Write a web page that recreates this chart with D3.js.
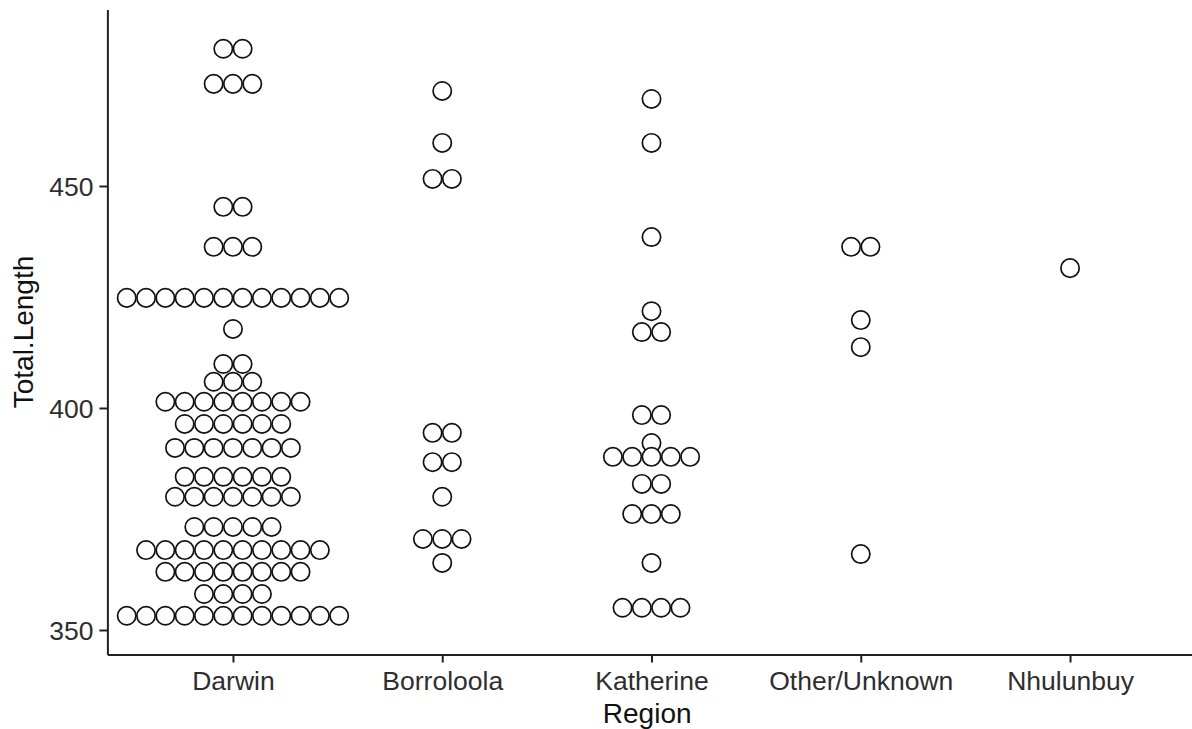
<!DOCTYPE html>
<html>
<head>
<meta charset="utf-8">
<script src="https://cdn.jsdelivr.net/npm/d3@7"></script>
<style>
  html, body { margin: 0; padding: 0; background: #fff; }
  svg { display: block; }
  text { font-family: "Liberation Sans", Arial, Helvetica, sans-serif; }
</style>
</head>
<body>
<svg id="chart" width="1192" height="729"></svg>
<script>
// Regions along the x axis
const regions = ["Darwin", "Borroloola", "Katherine", "Other/Unknown", "Nhulunbuy"];

// Dot stacks per region: stack centre (Total.Length) and number of dots in the stack
const darwinLevels  = [480.9, 473.0, 445.3, 436.3, 424.8, 417.8, 409.9, 405.9, 401.4, 396.4, 391.0, 384.5, 380.0, 373.2, 368.0, 363.1, 358.1, 353.2];
const darwinCounts  = [2, 3, 2, 3, 12, 1, 2, 3, 8, 6, 7, 6, 7, 5, 10, 8, 4, 12];

const borroLevels   = [471.4, 459.7, 451.6, 394.4, 387.8, 380.0, 370.5, 365.1];
const borroCounts   = [1, 1, 2, 2, 2, 1, 3, 1];

const kathLevels    = [469.6, 459.7, 438.5, 421.8, 417.1, 398.4, 392.1, 389.0, 382.9, 376.1, 365.1, 355.0];
const kathCounts    = [1, 1, 1, 1, 2, 2, 1, 5, 2, 3, 1, 4];

const otherLevels   = [436.3, 419.8, 413.7, 367.1];
const otherCounts   = [2, 1, 1, 1];

const nhulLevels    = [431.5];
const nhulCounts    = [1];

const yTicks = [350, 400, 450];
const binwidth = 4.35;   // dot diameter in data units

const stackLevels = [darwinLevels, borroLevels, kathLevels, otherLevels, nhulLevels];
const stackCounts = [darwinCounts, borroCounts, kathCounts, otherCounts, nhulCounts];

const svg = d3.select("#chart");

const panel = { left: 107.4, right: 1195.6, top: 9.5, bottom: 654.5 };

const x = d3.scalePoint()
  .domain(regions)
  .range([panel.left, panel.right])
  .padding(0.6);

const y = d3.scaleLinear()
  .domain([344.48, 489.75])
  .range([panel.bottom, panel.top]);

const diam = Math.abs(y(0) - y(binwidth));
const r = diam / 2;

// Dots: each stack is centred on its region
const dots = [];
regions.forEach((reg, ri) => {
  stackLevels[ri].forEach((lv, k) => {
    const n = stackCounts[ri][k];
    for (let i = 0; i < n; i++) {
      dots.push({ region: reg, level: lv, offset: i - (n - 1) / 2 });
    }
  });
});

svg.append("g")
  .selectAll("circle")
  .data(dots)
  .join("circle")
  .attr("cx", d => x(d.region) + d.offset * diam)
  .attr("cy", d => y(d.level))
  .attr("r", r - 0.5)
  .attr("fill", "#fff")
  .attr("stroke", "#111")
  .attr("stroke-width", 1.7);

// Axes
const tickLen = 8;
const axisStyle = g => {
  g.select(".domain").attr("stroke", "#222").attr("stroke-width", 2);
  g.selectAll(".tick line").attr("stroke", "#222").attr("stroke-width", 2);
  g.selectAll(".tick text")
    .attr("fill", "#2e2e2e")
    .style("font-size", "26.5px");
};

const yAxis = svg.append("g")
  .attr("transform", `translate(${panel.left},0)`)
  .call(d3.axisLeft(y).tickValues(yTicks).tickSize(tickLen).tickSizeOuter(0).tickPadding(6))
  .call(axisStyle);
yAxis.selectAll(".tick text").attr("dy", "0.36em");

const xAxis = svg.append("g")
  .attr("transform", `translate(0,${panel.bottom})`)
  .call(d3.axisBottom(x).tickSize(tickLen).tickSizeOuter(0).tickPadding(5))
  .call(axisStyle);
xAxis.selectAll(".tick text").attr("dy", "0.85em");

// Axis titles
svg.append("text")
  .attr("x", (panel.left + 1187) / 2)
  .attr("y", 723)
  .attr("text-anchor", "middle")
  .style("font-size", "28px")
  .attr("fill", "#111")
  .text("Region");

svg.append("text")
  .attr("transform", `translate(33,${(panel.top + panel.bottom) / 2}) rotate(-90)`)
  .attr("text-anchor", "middle")
  .style("font-size", "28px")
  .attr("fill", "#111")
  .text("Total.Length");
</script>
</body>
</html>
